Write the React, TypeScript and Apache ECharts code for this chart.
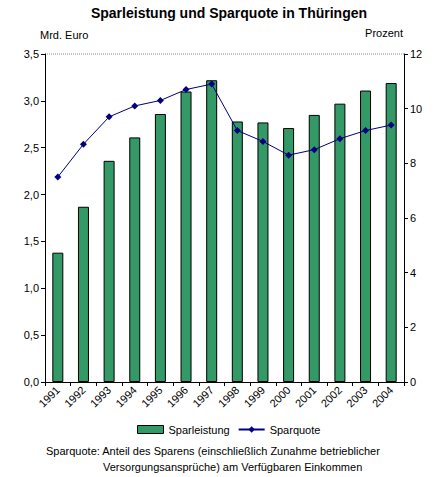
import React, { useEffect, useRef } from "react";
import * as echarts from "echarts";

const years = ["1991","1992","1993","1994","1995","1996","1997","1998","1999","2000","2001","2002","2003","2004"];
const sparleistung = [1.38, 1.87, 2.36, 2.61, 2.86, 3.10, 3.22, 2.78, 2.77, 2.71, 2.85, 2.97, 3.11, 3.19];
const sparquote = [7.5, 8.7, 9.7, 10.1, 10.3, 10.7, 10.9, 9.2, 8.8, 8.3, 8.5, 8.9, 9.2, 9.4];

const FONT = "Liberation Sans, Arial, sans-serif";

export default function App() {
  const ref = useRef<HTMLDivElement>(null);
  useEffect(() => {
    const chart = echarts.init(ref.current!, undefined, { renderer: "svg" });
    const gl = 45, gr = 33, gt = 54, gb = 95;
    chart.setOption({
      animation: false,
      backgroundColor: "#ffffff",
      textStyle: { fontFamily: FONT },
      grid: { left: gl, right: gr, top: gt, bottom: gb },
      legend: {
        bottom: 37,
        left: 132,
        itemGap: 8,
        itemWidth: 26,
        itemHeight: 8,
        textStyle: { fontFamily: FONT, fontSize: 11, color: "#000" },
        data: [
          { name: "Sparleistung", icon: "rect", itemStyle: { color: "#339966", borderColor: "#000", borderWidth: 1 } },
          { name: "Sparquote" },
        ],
      },
      xAxis: {
        type: "category",
        data: years,
        boundaryGap: true,
        axisLine: { lineStyle: { color: "#000" } },
        axisTick: { show: true, alignWithLabel: false, length: 4, lineStyle: { color: "#000" } },
        axisLabel: { rotate: 45, fontSize: 11, color: "#000", fontFamily: FONT, interval: 0, margin: 6 },
      },
      yAxis: [
        {
          type: "value",
          min: 0,
          max: 3.5,
          interval: 0.5,
          position: "left",
          axisLine: { show: true, lineStyle: { color: "#000" } },
          axisTick: { show: true, inside: false, length: 4, lineStyle: { color: "#000" } },
          axisLabel: {
            fontSize: 11, color: "#000", fontFamily: FONT, margin: 6,
            formatter: (v: number) => v.toFixed(1).replace(".", ","),
          },
          splitLine: { show: false },
          name: "Mrd. Euro",
          nameLocation: "end",
          nameGap: 14,
          nameTextStyle: { fontSize: 11, color: "#000", fontFamily: FONT, align: "left", padding: [0, 0, 0, -5] },
        },
        {
          type: "value",
          min: 0,
          max: 12,
          interval: 2,
          position: "right",
          axisLine: { show: true, lineStyle: { color: "#000" } },
          axisTick: { show: true, inside: false, length: 4, lineStyle: { color: "#000" } },
          axisLabel: { fontSize: 11, color: "#000", fontFamily: FONT, margin: 6 },
          splitLine: { show: false },
          name: "Prozent",
          nameLocation: "end",
          nameGap: 16,
          nameTextStyle: { fontSize: 11, color: "#000", fontFamily: FONT, align: "right", padding: [0, 1, 0, 0] },
        },
      ],
      series: [
        {
          name: "Sparleistung",
          type: "bar",
          yAxisIndex: 0,
          data: sparleistung,
          barWidth: 11,
          itemStyle: { color: "#339966", borderColor: "#000", borderWidth: 1 },
        },
        {
          name: "Sparquote",
          type: "line",
          yAxisIndex: 1,
          data: sparquote,
          symbol: "diamond",
          symbolSize: 7,
          lineStyle: { color: "#000080", width: 1 },
          itemStyle: { color: "#000080" },
        },
      ],
      graphic: [
        {
          type: "text",
          x: 229,
          y: 13,
          style: {
            text: "Sparleistung und Sparquote in Thüringen",
            fontSize: 14, fontWeight: "bold", fontFamily: FONT, fill: "#000",
            align: "center", verticalAlign: "middle",
          },
        },
        {
          type: "line",
          shape: { x1: gl, y1: gt, x2: 437 - gr, y2: gt },
          style: { stroke: "#888", lineWidth: 1, lineDash: [1, 1] },
        },
        {
          type: "text",
          left: 46,
          top: 445,
          style: { text: "Sparquote: Anteil des Sparens (einschließlich Zunahme betrieblicher", fontSize: 11, fontFamily: FONT, fill: "#000" },
        },
        {
          type: "text",
          left: 103,
          top: 461,
          style: { text: "Versorgungsansprüche) am Verfügbaren Einkommen", fontSize: 11, fontFamily: FONT, fill: "#000" },
        },
      ],
    });
    return () => chart.dispose();
  }, []);
  return <div ref={ref} style={{ width: 437, height: 477, position: "absolute", left: 0, top: 0 }} />;
}
